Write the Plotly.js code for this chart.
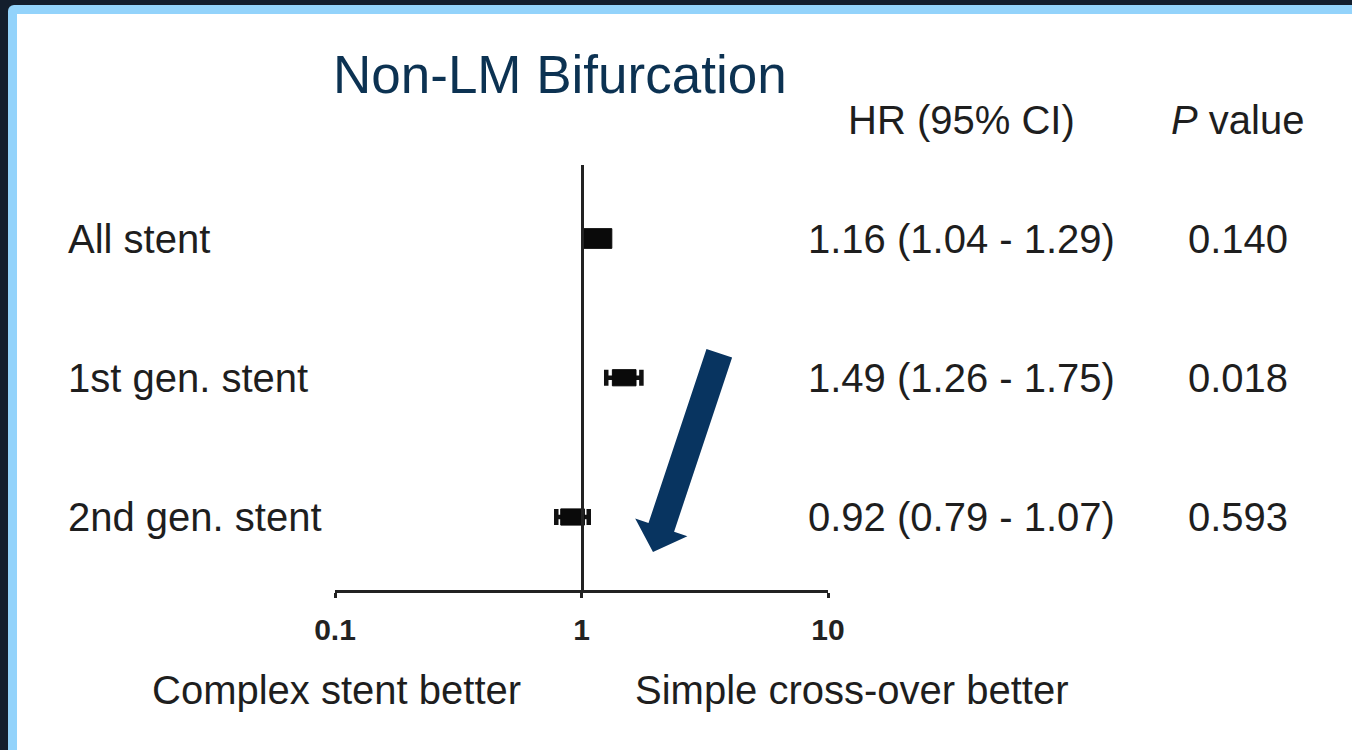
<!DOCTYPE html>
<html>
<head>
<meta charset="utf-8">
<script src="https://cdn.plot.ly/plotly-3.0.1.min.js"></script>
<style>
  html, body { margin:0; padding:0; width:1352px; height:750px; overflow:hidden; background:#131e2d; }
  #frame { position:absolute; left:8px; top:5px; width:1360px; height:760px; background:#93d3fb; border-top-left-radius:6px; }
  #inner { position:absolute; left:17px; top:14px; width:1340px; height:740px; background:#ffffff; }
  #chart { position:absolute; left:0; top:0; width:1352px; height:750px; }
</style>
</head>
<body>
<div id="frame"></div>
<div id="inner"></div>
<div id="chart"></div>
<script>
// ---- data ----
const categories = ['All stent', '1st gen. stent', '2nd gen. stent'];
const hr = [1.16, 1.49, 0.92];
const ciLow = [1.04, 1.26, 0.79];
const ciHigh = [1.29, 1.75, 1.07];
const pValues = ['0.140', '0.018', '0.593'];
const xTickVals = [0.1, 1, 10];
const xTickText = ['0.1', '1', '10'];
const titleText = 'Non-LM Bifurcation';
const leftNote = 'Complex stent better';
const rightNote = 'Simple cross-over better';
const hrHeader = 'HR (95% CI)';
const pHeader = '<i>P</i> value';

// ---- style ----
const L = 335, R = 828, T = 165, B = 590, W = 1352, H = 750;
const px2x = p => (p - L) / (R - L);
const py2y = p => (B - p) / (B - T);
const textColor = '#1e1e1e';
const fam = 'Liberation Sans, Arial, sans-serif';
const bodySize = 40;
const boxScale = [1.22, 1, 1];   // relative box size per row (weight look)
const boxHalfDec = 0.048;         // half width of box, decades
const boxHalfY = 0.058;           // half height of box, row units

const rows = categories.map((c, i) => i);
const hrLabels = hr.map((v, i) => `${v.toFixed(2)} (${ciLow[i].toFixed(2)} - ${ciHigh[i].toFixed(2)})`);

const traces = [];
// confidence intervals via error bars
traces.push({
  type: 'scatter', mode: 'markers', x: hr, y: rows,
  marker: { size: 1, color: 'rgba(0,0,0,0)' },
  error_x: {
    type: 'data', symmetric: false,
    array: hr.map((v, i) => ciHigh[i] - v),
    arrayminus: hr.map((v, i) => v - ciLow[i]),
    thickness: 4.5, width: 8, color: '#111'
  },
  hoverinfo: 'skip', showlegend: false
});
// boxes
hr.forEach((v, i) => {
  const f = Math.pow(10, boxHalfDec * boxScale[i]);
  const h = boxHalfY * boxScale[i];
  traces.push({
    type: 'scatter', mode: 'lines',
    x: [v / f, v * f, v * f, v / f, v / f],
    y: [i - h, i - h, i + h, i + h, i - h],
    fill: 'toself', fillcolor: '#0a0a0a', line: { width: 1, color: '#0a0a0a' },
    hoverinfo: 'skip', showlegend: false
  });
});

// arrow polygon (pixel coords -> paper)
const arrowPx = [[706.5,349],[732.1,357.6],[674.1,531.7],[687.4,536.2],[653,552],[635.2,518.6],[648.5,523.1]];
const arrowPath = 'M ' + arrowPx.map(p => px2x(p[0]).toFixed(4) + ',' + py2y(p[1]).toFixed(4)).join(' L ') + ' Z';

const annotations = [];
categories.forEach((c, i) => {
  annotations.push({ text: c, xref: 'paper', yref: 'y', x: px2x(66), y: i, xanchor: 'left', yanchor: 'middle',
    showarrow: false, font: { family: fam, size: bodySize, color: textColor } });
  annotations.push({ text: hrLabels[i], xref: 'paper', yref: 'y', x: px2x(961.5), y: i, xanchor: 'center', yanchor: 'middle',
    showarrow: false, font: { family: fam, size: bodySize, color: textColor } });
  annotations.push({ text: pValues[i], xref: 'paper', yref: 'y', x: px2x(1237.5), y: i, xanchor: 'center', yanchor: 'middle',
    showarrow: false, font: { family: fam, size: bodySize, color: textColor } });
});
annotations.push({ text: hrHeader, xref: 'paper', yref: 'paper', x: px2x(961.5), y: py2y(120), xanchor: 'center', yanchor: 'middle',
  showarrow: false, font: { family: fam, size: bodySize, color: textColor } });
annotations.push({ text: pHeader, xref: 'paper', yref: 'paper', x: px2x(1237.5), y: py2y(120), xanchor: 'center', yanchor: 'middle',
  showarrow: false, font: { family: fam, size: bodySize, color: textColor } });
annotations.push({ text: leftNote, xref: 'paper', yref: 'paper', x: px2x(336), y: py2y(690), xanchor: 'center', yanchor: 'middle',
  showarrow: false, font: { family: fam, size: bodySize, color: textColor } });
annotations.push({ text: rightNote, xref: 'paper', yref: 'paper', x: px2x(851), y: py2y(690), xanchor: 'center', yanchor: 'middle',
  showarrow: false, font: { family: fam, size: bodySize, color: textColor } });

const rowPx = 139.25;
const yMin = -73.5 / rowPx;
const yMax = yMin + (B - T) / rowPx;

const layout = {
  width: W, height: H,
  margin: { l: L, r: W - R, t: T, b: H - B, pad: 0 },
  paper_bgcolor: 'rgba(0,0,0,0)', plot_bgcolor: 'rgba(0,0,0,0)',
  showlegend: false,
  font: { family: fam },
  title: { text: titleText, xref: 'container', yref: 'container', x: 333 / W, xanchor: 'left',
    y: 1 - 74 / H, yanchor: 'middle', font: { family: fam, size: 53, color: '#0c3252' } },
  xaxis: {
    type: 'log', range: [-1, 1], tickvals: xTickVals, ticktext: xTickText.map(t => '<b>' + t + '</b>'),
    showline: true, linewidth: 3, linecolor: '#222', mirror: false,
    ticks: 'outside', ticklen: 5, tickwidth: 3, tickcolor: '#222',
    tickfont: { family: fam, size: 30, color: '#222' },
    ticklabelstandoff: 6,
    showgrid: false, zeroline: false, fixedrange: true
  },
  yaxis: {
    range: [yMax, yMin], showticklabels: false, ticks: '', showgrid: false, zeroline: false,
    anchor: 'free', position: 0.5, showline: true, linewidth: 3, linecolor: '#222', fixedrange: true
  },
  shapes: [{ type: 'path', xref: 'paper', yref: 'paper', path: arrowPath, fillcolor: '#083460', line: { width: 0 } }],
  annotations: annotations
};

Plotly.newPlot('chart', traces, layout, { displayModeBar: false, staticPlot: true });
</script>
</body>
</html>
